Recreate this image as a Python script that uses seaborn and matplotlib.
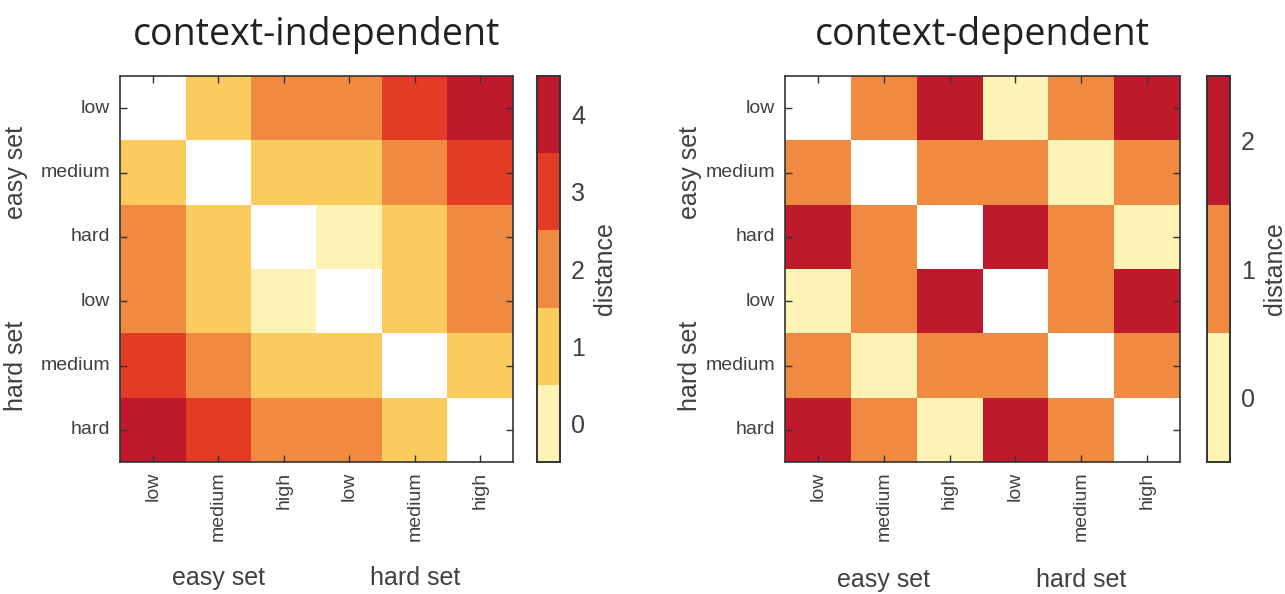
import numpy as np
import matplotlib
matplotlib.use("Agg")
import matplotlib.pyplot as plt
import seaborn as sns
from matplotlib.colors import ListedColormap
from matplotlib.transforms import blended_transform_factory

sns.set_theme(style="white")
plt.rcParams['font.family'] = ['Liberation Sans', 'DejaVu Sans']

levels = ["low", "medium", "hard"]
col_levels = ["low", "medium", "high"]
row_labels = levels + levels
col_labels = col_levels + col_levels
groups = ["easy set", "hard set"]

# pairwise distances (diagonal left blank)
independent = [
    [np.nan, 1, 2, 2, 3, 4],
    [1, np.nan, 1, 1, 2, 3],
    [2, 1, np.nan, 0, 1, 2],
    [2, 1, 0, np.nan, 1, 2],
    [3, 2, 1, 1, np.nan, 1],
    [4, 3, 2, 2, 1, np.nan],
]
dependent = [
    [np.nan, 1, 2, 0, 1, 2],
    [1, np.nan, 1, 1, 0, 1],
    [2, 1, np.nan, 2, 1, 0],
    [0, 1, 2, np.nan, 1, 2],
    [1, 0, 1, 1, np.nan, 1],
    [2, 1, 0, 2, 1, np.nan],
]

pal5 = ["#FCF3B4", "#FCCB5E", "#F18A41", "#E43C24", "#BE1A2B"]
pal3 = ["#FCF3B4", "#F18A41", "#BE1A2B"]

TXT = "#404040"
EDGE = "#333333"

fig = plt.figure(figsize=(12.85, 5.94), dpi=100)

panels = [
    dict(data=independent, pal=pal5, title="context-independent",
         ax=[0.0934, 0.2222, 0.3058, 0.6498], cax=[0.4179, 0.2222, 0.0179, 0.6498],
         ylab_x=-0.265, xlab_y=-0.30),
    dict(data=dependent, pal=pal3, title="context-dependent",
         ax=[0.6109, 0.2222, 0.3074, 0.6498], cax=[0.9393, 0.2222, 0.0179, 0.6498],
         ylab_x=-0.24, xlab_y=-0.305),
]

for p in panels:
    ax = fig.add_axes(p["ax"])
    cax = fig.add_axes(p["cax"])
    n = len(p["pal"])
    arr = np.array(p["data"], dtype=float)
    sns.heatmap(arr, ax=ax, cbar_ax=cax, cmap=ListedColormap(p["pal"]),
                vmin=-0.5, vmax=n - 0.5, square=False,
                xticklabels=col_labels, yticklabels=row_labels,
                cbar_kws=dict(ticks=list(range(n))))
    ax.set_facecolor("white")
    ax.set_axisbelow(False)
    for s in ax.spines.values():
        s.set_visible(True)
        s.set_color(EDGE)
        s.set_linewidth(1.2)
    ax.tick_params(direction="in", length=5, width=1, color=EDGE,
                   top=True, right=True, bottom=True, left=True,
                   labelcolor=TXT, labelsize=14, pad=7)
    ax.set_xticklabels(col_labels, rotation=90)
    ax.set_yticklabels(row_labels, rotation=0)

    tr_y = blended_transform_factory(ax.transAxes, ax.transData)
    tr_x = blended_transform_factory(ax.transData, ax.transAxes)
    for g, c in zip(groups, [1.5, 4.5]):
        ax.text(p["ylab_x"], c, g, transform=tr_y, rotation=90,
                ha="center", va="center", fontsize=18, color=TXT)
        ax.text(c, p["xlab_y"], g, transform=tr_x,
                ha="center", va="center", fontsize=18, color=TXT)

    ax.set_title(p["title"], fontsize=27, color="#222222", pad=22,
                 family=["Open Sans", "DejaVu Sans"])

    for s in cax.spines.values():
        s.set_visible(True)
        s.set_color(EDGE)
        s.set_linewidth(1.2)
    cax.tick_params(length=0, labelsize=18, labelcolor=TXT, pad=8)
    cax.set_ylabel("distance", fontsize=18, color=TXT, labelpad=6)

fig.savefig("out.png", dpi=100, facecolor="white")
